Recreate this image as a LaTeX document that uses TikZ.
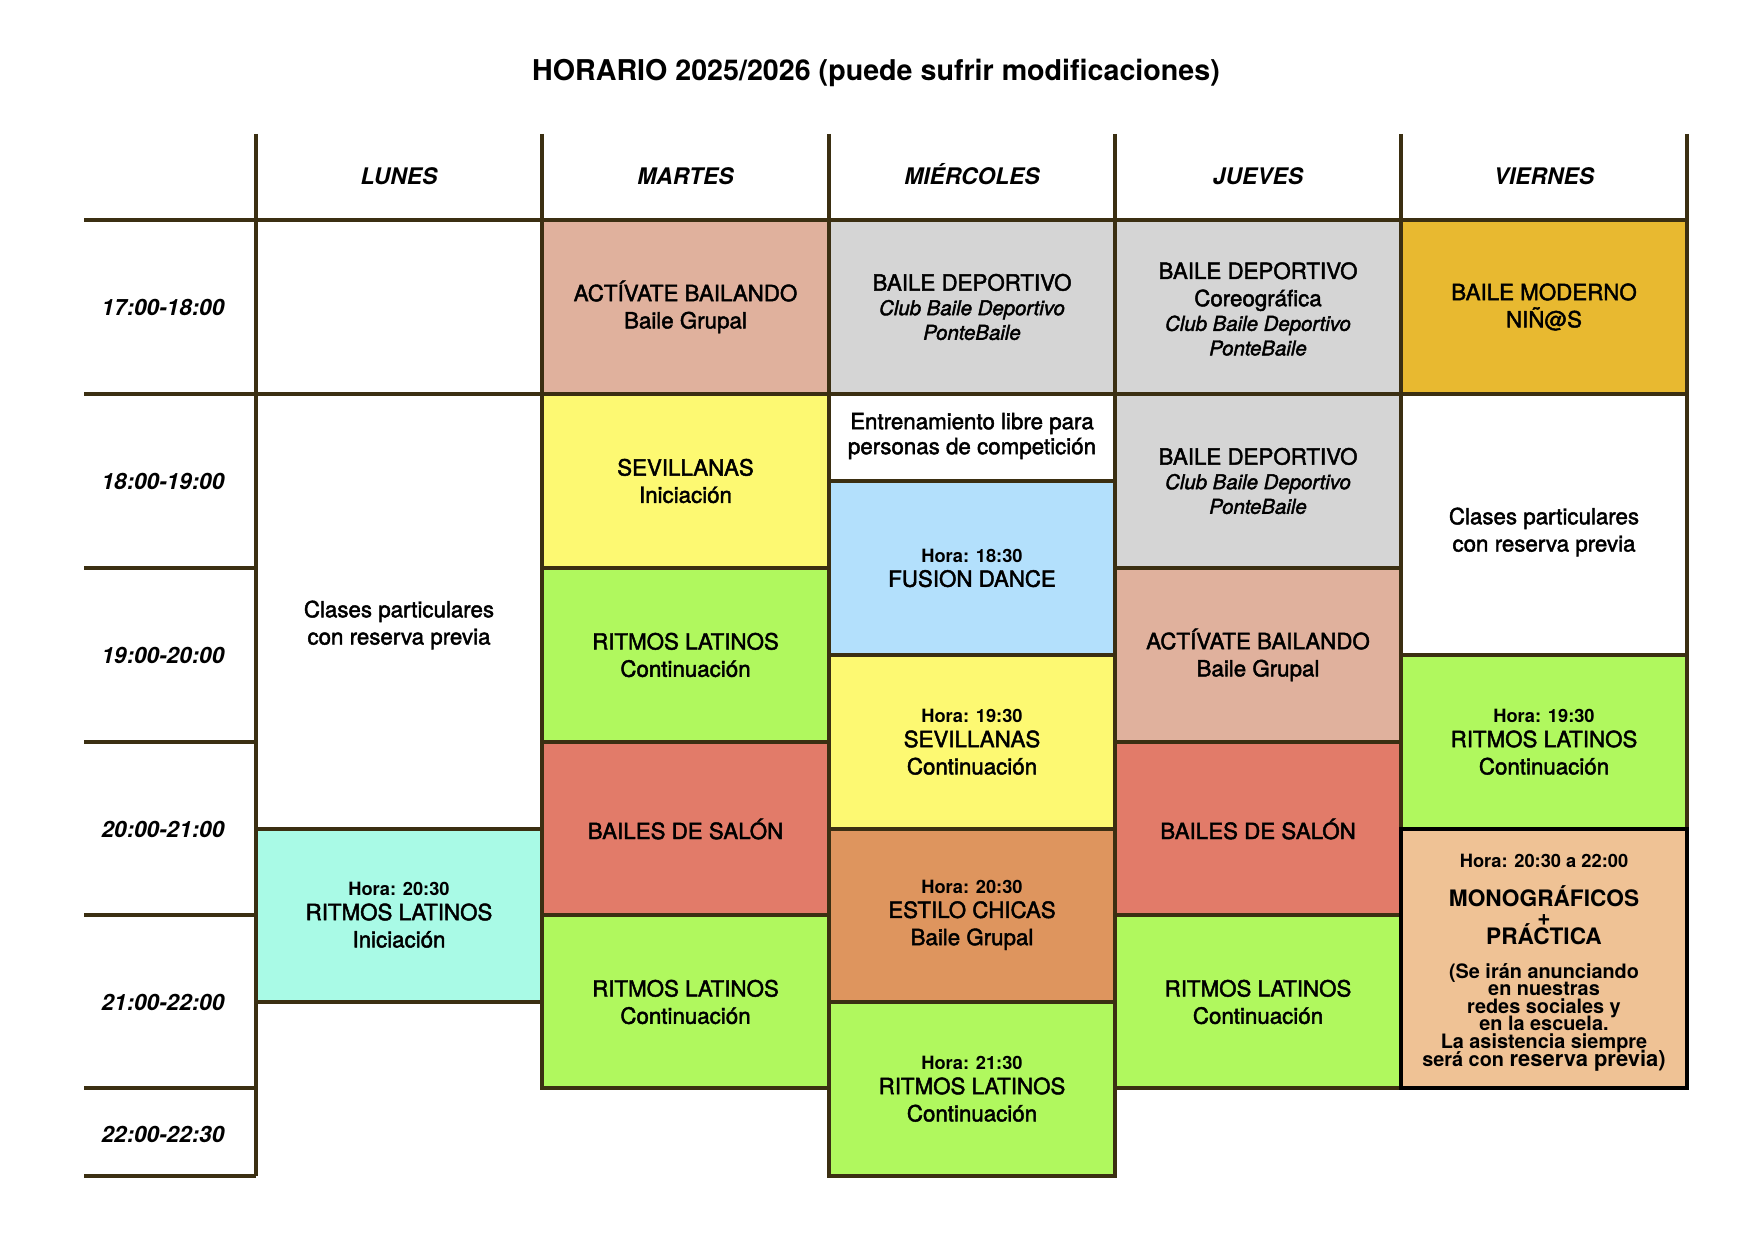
\documentclass[tikz,border=0pt]{standalone}
\usepackage{fontspec}
\setmainfont{TeX Gyre Heros}
\newfontfamily\medfont{TeX Gyre Heros}[UprightFeatures={FakeBold=2},ItalicFeatures={FakeBold=2}]
\definecolor{rulecol}{RGB}{59,47,18}
\definecolor{salmon}{RGB}{224,177,157}
\definecolor{amarillo}{RGB}{253,249,114}
\definecolor{verde}{RGB}{176,248,94}
\definecolor{rojo}{RGB}{226,123,105}
\definecolor{gris}{RGB}{213,213,213}
\definecolor{azul}{RGB}{179,224,252}
\definecolor{naranja}{RGB}{222,149,94}
\definecolor{cian}{RGB}{169,250,230}
\definecolor{oro}{RGB}{232,185,48}
\definecolor{melocoton}{RGB}{239,194,149}
\newcommand{\horatxt}[1]{{\normalfont\bfseries\fontsize{10.4}{12}\selectfont Hora: #1}}
\newcommand{\clubfont}{\itshape\fontsize{11.6}{14}\selectfont}
\newcommand{\monofont}{\bfseries\fontsize{12.9}{10.8}\selectfont\lineskiplimit=-20pt\relax}
\newcommand{\notefont}{\bfseries\fontsize{11.3}{10}\selectfont\lineskiplimit=-20pt\relax}

\begin{document}
\begin{tikzpicture}[x=0.2mm,y=-0.2mm,
    cell/.style={draw=rulecol,line width=1.8pt},
    rule/.style={draw=rulecol,line width=1.8pt},
    txt/.style={align=center,font=\medfont\fontsize{12.7}{15.5}\selectfont},
    day/.style={anchor=base,font=\bfseries\itshape\fontsize{13}{15}\selectfont},
    hour/.style={font=\bfseries\itshape\fontsize{12.8}{15}\selectfont}]
  \useasboundingbox (0,0) rectangle (1754,1239);
  \node[font=\bfseries\fontsize{16.3}{19}\selectfont] (titulo) at (876,73) {HORARIO 2025/2026 (puede sufrir modificaciones)};

  % lunes
  \filldraw[cell,fill=white] (256,220) rectangle (542,394);
  \filldraw[cell,fill=white] (256,394) rectangle (542,829);
  \filldraw[cell,fill=cian] (256,829) rectangle (542,1002);
  % martes
  \filldraw[cell,fill=salmon] (542,220) rectangle (829,394);
  \filldraw[cell,fill=amarillo] (542,394) rectangle (829,568);
  \filldraw[cell,fill=verde] (542,568) rectangle (829,742);
  \filldraw[cell,fill=rojo] (542,742) rectangle (829,915);
  \filldraw[cell,fill=verde] (542,915) rectangle (829,1088);
  % miercoles
  \filldraw[cell,fill=gris] (829,220) rectangle (1115,394);
  \filldraw[cell,fill=white] (829,394) rectangle (1115,481);
  \filldraw[cell,fill=azul] (829,481) rectangle (1115,655);
  \filldraw[cell,fill=amarillo] (829,655) rectangle (1115,829);
  \filldraw[cell,fill=naranja] (829,829) rectangle (1115,1002);
  \filldraw[cell,fill=verde] (829,1002) rectangle (1115,1176);
  % jueves
  \filldraw[cell,fill=gris] (1115,220) rectangle (1401,394);
  \filldraw[cell,fill=gris] (1115,394) rectangle (1401,568);
  \filldraw[cell,fill=salmon] (1115,568) rectangle (1401,742);
  \filldraw[cell,fill=rojo] (1115,742) rectangle (1401,915);
  \filldraw[cell,fill=verde] (1115,915) rectangle (1401,1088);
  % viernes
  \filldraw[cell,fill=oro] (1401,220) rectangle (1687,394);
  \filldraw[cell,fill=white] (1401,394) rectangle (1687,655);
  \filldraw[cell,fill=verde] (1401,655) rectangle (1687,829);
  \filldraw[cell,draw=black,fill=melocoton] (1401,829) rectangle (1687,1088);

  % rejilla
  \draw[rule] (256,134) -- (256,1176);
  \foreach \x in {542,829,1115,1401,1687}
    \draw[rule] (\x,134) -- (\x,220);
  \foreach \y in {220,394,568,742,915,1088,1176}
    \draw[rule] (84,\y) -- (256,\y);

  \node[day] (lunes) at (399,185) {LUNES};
  \node[day] (martes) at (685.5,185) {MARTES};
  \node[day] (miercoles) at (972,185) {MIÉRCOLES};
  \node[day] (jueves) at (1258,185) {JUEVES};
  \node[day] (viernes) at (1544,185) {VIERNES};

  \node[hour] (h17) at (163,307) {17:00-18:00};
  \node[hour] (h18) at (163,481) {18:00-19:00};
  \node[hour] (h19) at (163,655) {19:00-20:00};
  \node[hour] (h20) at (163,829) {20:00-21:00};
  \node[hour] (h21) at (163,1002) {21:00-22:00};
  \node[hour] (h22) at (163,1134) {22:00-22:30};

  \node[txt] (lun2) at (399,625) {Clases particulares\\con reserva previa};
  \node[txt] (lun3) at (399,915) {\horatxt{20:30}\\[-1.5pt]RITMOS LATINOS\\Iniciación};

  \node[txt] (mar1) at (685.5,307) {ACTÍVATE BAILANDO\\Baile Grupal};
  \node[txt] (mar2) at (685.5,481) {SEVILLANAS\\Iniciación};
  \node[txt] (mar3) at (685.5,655) {RITMOS LATINOS\\Continuación};
  \node[txt] (mar4) at (685.5,829) {BAILES DE SALÓN};
  \node[txt] (mar5) at (685.5,1002) {RITMOS LATINOS\\Continuación};

  \node[txt] (mie1) at (972,307) {BAILE DEPORTIVO\\[-1.5pt]{\clubfont Club Baile Deportivo}\\[-1.5pt]{\clubfont PonteBaile}};
  \node[txt] (mie2) at (972,436) {Entrenamiento libre para\\[-1.3pt]personas de competición};
  \node[txt] (mie3) at (972,568) {\horatxt{18:30}\\[-1.5pt]FUSION DANCE};
  \node[txt] (mie4) at (972,742) {\horatxt{19:30}\\[-1.5pt]SEVILLANAS\\Continuación};
  \node[txt] (mie5) at (972,915) {\horatxt{20:30}\\[-1.5pt]ESTILO CHICAS\\Baile Grupal};
  \node[txt] (mie6) at (972,1089) {\horatxt{21:30}\\[-1.5pt]RITMOS LATINOS\\Continuación};

  \node[txt] (jue1) at (1258,309) {BAILE DEPORTIVO\\Coreográfica\\[-1.5pt]{\clubfont Club Baile Deportivo}\\[-1.5pt]{\clubfont PonteBaile}};
  \node[txt] (jue2) at (1258,481) {BAILE DEPORTIVO\\[-1.5pt]{\clubfont Club Baile Deportivo}\\[-1.5pt]{\clubfont PonteBaile}};
  \node[txt] (jue3) at (1258,655) {ACTÍVATE BAILANDO\\Baile Grupal};
  \node[txt] (jue4) at (1258,829) {BAILES DE SALÓN};
  \node[txt] (jue5) at (1258,1002) {RITMOS LATINOS\\Continuación};

  \node[txt] (vie1) at (1544,307) {BAILE MODERNO\\NIÑ@S};
  \node[txt] (vie2) at (1544,532) {Clases particulares\\con reserva previa};
  \node[txt] (vie3) at (1544,742) {\horatxt{19:30}\\[-1.5pt]RITMOS LATINOS\\Continuación};
  \node[txt] (vie4h) at (1544,861) {\horatxt{20:30 a 22:00}};
  \node[align=center,font=\monofont] (vie4t) at (1544,915) {MONOGRÁFICOS\\+\\PRÁCTICA};
  \node[align=center,font=\notefont] (vie4p) at (1544,1017) {(Se irán anunciando\\en nuestras\\redes sociales y\\en la escuela.\\La asistencia siempre\\será con {\fontsize{12.5}{10}\selectfont reserva previa)}};
\end{tikzpicture}
\end{document}
